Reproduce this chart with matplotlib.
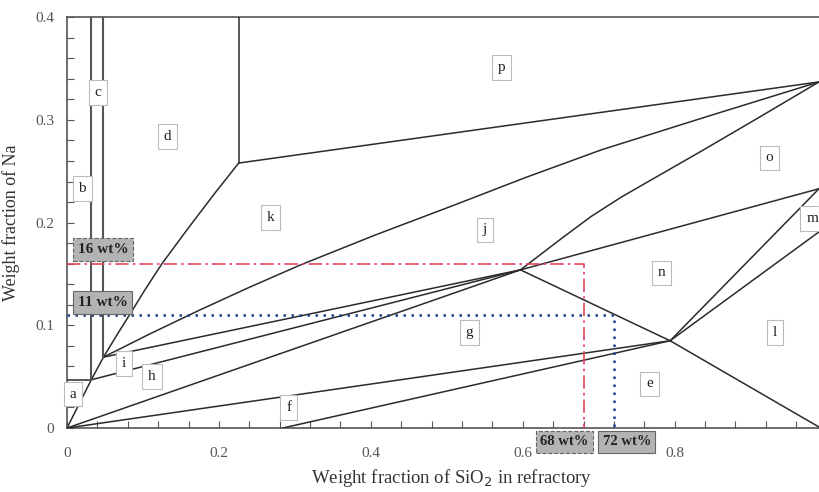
import matplotlib
matplotlib.use("Agg")
import matplotlib.pyplot as plt
from matplotlib.ticker import MultipleLocator

# ---- data (phase boundary polylines, weight fractions) ----
XR = 0.99  # right edge of the diagram
boundary_lines = [
    # top of region a
    [(0.0, 0.047), (0.032, 0.047)],
    # left curve from origin to d/k/p corner
    [(0.0, 0.0), (0.032, 0.047), (0.048, 0.069), (0.066, 0.091), (0.083, 0.111),
     (0.103, 0.135), (0.125, 0.160), (0.160, 0.195), (0.195, 0.229), (0.226, 0.258)],
    # d/p vertical
    [(0.226, 0.258), (0.226, 0.40)],
    # k/p boundary
    [(0.226, 0.258), (XR, 0.337)],
    # k/j curve
    [(0.048, 0.069), (0.110, 0.092), (0.175, 0.115), (0.240, 0.137), (0.308, 0.159),
     (0.406, 0.188), (0.506, 0.216), (0.604, 0.244), (0.704, 0.271), (0.850, 0.305), (XR, 0.337)],
    # j/o curve
    [(0.597, 0.154), (0.650, 0.184), (0.690, 0.206), (0.730, 0.225), (0.770, 0.242),
     (0.836, 0.270), (0.910, 0.302), (XR, 0.337)],
    # j/n
    [(0.597, 0.154), (XR, 0.233)],
    # n/g-e/l diagonal
    [(0.597, 0.154), (0.794, 0.085), (XR, 0.001)],
    # m boundaries
    [(0.794, 0.085), (XR, 0.233)],
    [(0.794, 0.085), (XR, 0.191)],
    # lines to upper junction
    [(0.048, 0.069), (0.597, 0.154)],
    [(0.032, 0.047), (0.597, 0.154)],
    [(0.0, 0.0), (0.597, 0.154)],
    # lines to lower junction
    [(0.0, 0.0), (0.794, 0.085)],
    [(0.284, 0.0), (0.794, 0.085)],
]
# vertical b/c and c/d boundaries (drawn gray)
vertical_lines = [
    [(0.032, 0.047), (0.032, 0.40)],
    [(0.048, 0.069), (0.048, 0.40)],
]

region_names = ["a", "b", "c", "d", "k", "j", "p", "o", "m", "n", "g", "l", "e", "f", "h", "i"]
region_x = [0.008, 0.020, 0.041, 0.132, 0.268, 0.550, 0.572, 0.925, 0.981, 0.783, 0.530, 0.932, 0.767, 0.292, 0.112, 0.075]
region_y = [0.033, 0.233, 0.327, 0.284, 0.205, 0.193, 0.351, 0.263, 0.204, 0.151, 0.093, 0.093, 0.043, 0.020, 0.050, 0.063]

na_levels = [0.16, 0.11]
sio2_levels = [0.68, 0.72]
level_colors = ["#e8415a", "#243c8c"]
na_labels = ["16 wt%", "11 wt%"]
sio2_labels = ["68 wt%", "72 wt%"]

# ---- figure ----
fig = plt.figure(figsize=(8.19, 4.92), dpi=100)
ax = fig.add_axes([0.0818, 0.130, 1 - 0.0818, 0.835])
serif = ["Liberation Serif", "DejaVu Serif"]
plt.rcParams["mathtext.fontset"] = "stix"

for line in boundary_lines:
    xs, ys = zip(*line)
    ax.plot(xs, ys, color="#2b2b2b", lw=1.1, solid_joinstyle="round", zorder=3)
for line in vertical_lines:
    xs, ys = zip(*line)
    ax.plot(xs, ys, color="#555555", lw=1.5, zorder=3)

# composition guide lines
ax.plot([0, sio2_levels[0], sio2_levels[0]], [na_levels[0], na_levels[0], 0],
        color=level_colors[0], lw=1.2, dashes=(8, 2.5, 1.5, 2.5), zorder=4)
ax.plot([0, sio2_levels[1], sio2_levels[1]], [na_levels[1], na_levels[1], 0],
        color=level_colors[1], lw=1.8, dashes=(1, 2.2), zorder=4)

for name, x, y in zip(region_names, region_x, region_y):
    ax.text(x, y, name, ha="center", va="center", fontsize=11, family=serif, color="#222",
            bbox=dict(boxstyle="square,pad=0.38", fc="white", ec="#bbbbbb", lw=0.8), zorder=5)

# wt% boxes
box_ls = ["--", "-"]
for lab, y, ls in zip(na_labels, [0.174, 0.122], box_ls):
    ax.text(0.014, y, lab, ha="left", va="center", fontsize=11, fontweight="bold",
            family=serif, color="#222",
            bbox=dict(boxstyle="square,pad=0.32", fc="#b3b3b3", ec="#666666", lw=0.8, ls=ls),
            zorder=6)
for lab, x, ls in zip(sio2_labels, [0.655, 0.737], box_ls):
    ax.text(x, -0.0135, lab, ha="center", va="center", fontsize=10.5, fontweight="bold",
            family=serif, color="#222", clip_on=False,
            bbox=dict(boxstyle="square,pad=0.3", fc="#b3b3b3", ec="#666666", lw=0.8, ls=ls),
            zorder=6)

ax.set_xlim(0, XR)
ax.set_ylim(0, 0.4)
ax.xaxis.set_major_locator(MultipleLocator(0.2))
ax.xaxis.set_minor_locator(MultipleLocator(0.04))
ax.yaxis.set_major_locator(MultipleLocator(0.1))
ax.yaxis.set_minor_locator(MultipleLocator(0.02))
ax.xaxis.set_major_formatter(plt.FuncFormatter(lambda v, p: "0" if v == 0 else f"{v:.1f}"))
ax.yaxis.set_major_formatter(plt.FuncFormatter(lambda v, p: "0" if v == 0 else f"{v:.1f}"))
ax.tick_params(axis="both", which="both", direction="in", color="#555", width=0.8)
ax.tick_params(axis="both", which="major", length=5)
ax.tick_params(axis="both", which="minor", length=5)
ax.tick_params(axis="x", which="major", pad=14, labelsize=11, labelcolor="#555")
ax.tick_params(axis="y", which="major", pad=9, labelsize=11, labelcolor="#555")
for t in ax.get_xticklabels() + ax.get_yticklabels():
    t.set_family(serif)

for s in ["left", "bottom", "top"]:
    ax.spines[s].set_color("#555")
    ax.spines[s].set_linewidth(1.2)
ax.spines["right"].set_visible(False)

ax.set_xlabel("Weight fraction of SiO$_2$ in refractory", fontsize=13.5, family=serif,
              color="#333", labelpad=2)
ax.xaxis.set_label_coords(0.512, -0.095)
ax.set_ylabel("Weight fraction of Na", fontsize=13, family=serif, color="#333")
ax.yaxis.set_label_coords(-0.062, 0.5)

fig.savefig("out.png", dpi=100)
